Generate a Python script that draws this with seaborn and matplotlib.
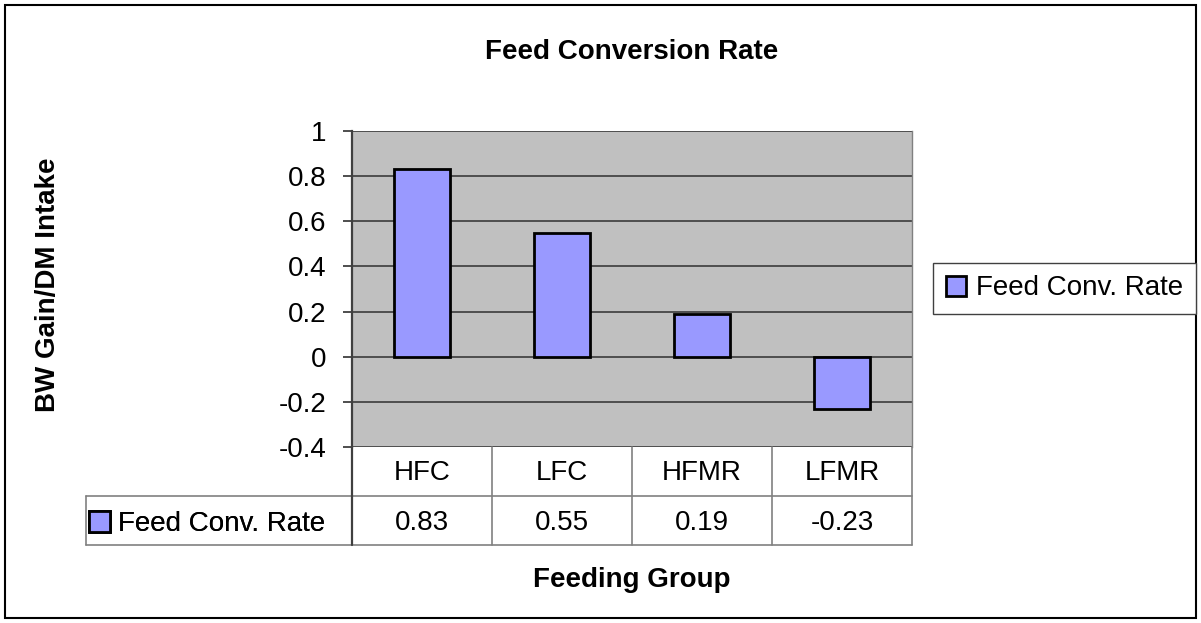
import matplotlib
matplotlib.use("Agg")
import matplotlib.pyplot as plt
from matplotlib.lines import Line2D
from matplotlib.patches import Rectangle
import seaborn as sns

groups = ["HFC", "LFC", "HFMR", "LFMR"]
values = [0.83, 0.55, 0.19, -0.23]
value_labels = ["0.83", "0.55", "0.19", "-0.23"]
series_name = "Feed Conv. Rate"
y_ticks = [-0.4, -0.2, 0, 0.2, 0.4, 0.6, 0.8, 1]
y_tick_labels = ["-0.4", "-0.2", "0", "0.2", "0.4", "0.6", "0.8", "1"]

sns.set_style("white")
plt.rcParams["font.family"] = ["Liberation Sans", "DejaVu Sans"]
plt.rcParams["font.size"] = 20
plt.rcParams["text.color"] = "black"
plt.rcParams["ytick.labelcolor"] = "black"

W, H = 1201, 623
fig = plt.figure(figsize=(W / 100, H / 100), dpi=100)
ax = fig.add_axes([352 / W, 1 - 447 / H, 560 / W, 316 / H])

sns.barplot(x=groups, y=values, color="#9999FF", edgecolor="black",
            linewidth=2, width=0.4, saturation=1, label=series_name, ax=ax)

ax.set_facecolor("#C0C0C0")
ax.set_xlim(-0.5, 3.5)
ax.set_ylim(-0.4, 1)
ax.set_yticks(y_ticks)
ax.set_yticklabels(y_tick_labels)
ax.set_xlabel("")
ax.set_ylabel("")
ax.tick_params(axis="x", length=0, labelbottom=False)
ax.tick_params(axis="y", length=6.5, width=1.3, color="#404040", pad=12,
               labelsize=20, labelcolor="black", left=True)
ax.yaxis.grid(True, color="#303030", linewidth=1.1)
ax.set_axisbelow(True)
for side in ["top", "bottom"]:
    ax.spines[side].set_visible(False)
ax.spines["left"].set_color("#404040")
ax.spines["left"].set_linewidth(1.6)
ax.spines["right"].set_color("#808080")
ax.spines["right"].set_linewidth(1)

# data table under the plot
tr = ax.get_xaxis_transform()
r1 = -(496 - 447) / 316
r2 = -(545 - 447) / 316
x_left = -0.5 - (352 - 86) / 140
grey = "#808080"
for y0 in [r1, r2]:
    ax.add_line(Line2D([x_left, 3.5], [y0, y0], transform=tr, color=grey,
                       lw=1.2, clip_on=False))
ax.add_line(Line2D([-0.5, -0.5], [0, r2], transform=tr, color="#404040",
                   lw=1.6, clip_on=False))
for xb in [0.5, 1.5, 2.5, 3.5]:
    ax.add_line(Line2D([xb, xb], [0, r2], transform=tr, color=grey,
                       lw=1.2, clip_on=False))
ax.add_line(Line2D([x_left, x_left], [r1, r2], transform=tr, color=grey,
                   lw=1.2, clip_on=False))
for i, g in enumerate(groups):
    ax.text(i, -(473 - 447) / 316, g, transform=tr, ha="center",
            va="center", fontsize=20, color="black")
    ax.text(i, -(523 - 447) / 316, value_labels[i], transform=tr,
            ha="center", va="center", fontsize=20, color="black")

handles, labels = ax.get_legend_handles_labels()

# legend key inside the table
leg_tab = ax.legend(handles, labels, loc="center left",
                    bbox_to_anchor=(x_left + 0.02, (r1 + r2) / 2 - 0.012),
                    bbox_transform=tr, frameon=False, fontsize=20,
                    handlelength=0.75, handleheight=0.75, handletextpad=0.3,
                    borderpad=0, borderaxespad=0, labelcolor="black")
ax.add_artist(leg_tab)

fig.add_artist(Rectangle((5 / W, 5 / H), 1191 / W, 613 / H,
                         transform=fig.transFigure, fill=False,
                         edgecolor="black", linewidth=1.5))

leg = fig.legend(handles, labels, loc="center left",
                 bbox_to_anchor=(933 / W, 1 - 288.5 / H), fontsize=20,
                 handlelength=0.75, handleheight=0.75, handletextpad=0.35,
                 borderpad=0.45, borderaxespad=0, fancybox=False,
                 edgecolor="#404040", framealpha=1, labelcolor="black")
leg.get_frame().set_linewidth(1)

fig.text(632 / W, 1 - 52 / H, "Feed Conversion Rate", ha="center",
         va="center", fontsize=20, fontweight="bold", color="black")
fig.text(632 / W, 1 - 580 / H, "Feeding Group", ha="center", va="center",
         fontsize=20, fontweight="bold", color="black")
fig.text(48 / W, 1 - 285 / H, "BW Gain/DM Intake", ha="center", va="center",
         rotation=90, fontsize=20, fontweight="bold", color="black")

fig.savefig("out.png", dpi=100, facecolor="white")
